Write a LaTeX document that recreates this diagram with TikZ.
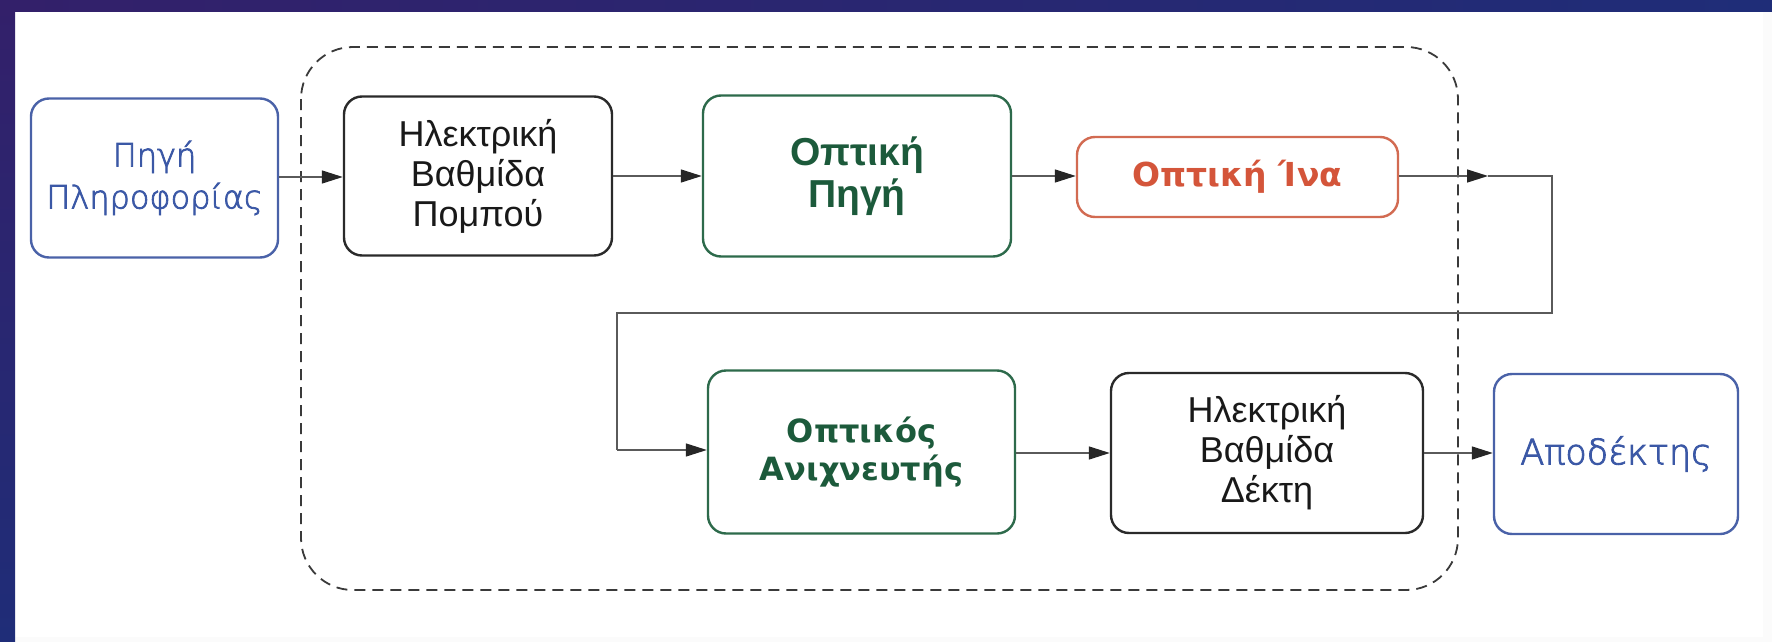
\documentclass[tikz,border=0pt]{standalone}
\usepackage{fontspec}
\setmainfont{Liberation Sans}
\newfontfamily\djsans{DejaVu Sans}
\newfontfamily\djlight{DejaVu Sans ExtraLight}[FakeBold=2.5]
\usetikzlibrary{arrows.meta}
\definecolor{frameA}{HTML}{33206A}
\definecolor{frameB}{HTML}{1F2D78}
\definecolor{bluec}{HTML}{3B58A6}
\definecolor{blueb}{HTML}{4A62A8}
\definecolor{greenc}{HTML}{1C5A3B}
\definecolor{greenb}{HTML}{2D6A4B}
\definecolor{redc}{HTML}{D4553A}
\definecolor{redb}{HTML}{D26B52}
\definecolor{darkb}{HTML}{2A2A2A}
\definecolor{linec}{HTML}{5A5A5A}
\definecolor{dashc}{HTML}{3A3A3A}
\begin{document}
\begin{tikzpicture}[x=1pt,y=-1pt,
  boxbase/.style={rounded corners=18pt, line width=2.4pt, align=center, inner sep=0pt, anchor=center},
  blackbox/.style={boxbase, draw=darkb, text=black!90, font=\fontsize{36}{40}\selectfont},
  bluebox/.style={boxbase, draw=blueb, text=bluec},
  greenbox/.style={boxbase, draw=greenb, text=greenc},
  redbox/.style={boxbase, draw=redb, text=redc, font=\djsans\bfseries\fontsize{33}{38}\selectfont},
  conn/.style={draw=linec, line width=1.4pt},
  arr/.style={conn, -{Triangle[length=21pt,width=13pt,fill=black!85,color=black!85]}},
  groupbox/.style={draw=dashc, line width=1.8pt, dash pattern=on 11pt off 7pt, rounded corners=52pt}
]
\useasboundingbox (0,0) rectangle (1772,642);
\fill[white!97!gray] (0,0) rectangle (1772,642);
\fill[white] (15,12) rectangle (1763,637);
\shade[left color=frameA, right color=frameB] (0,0) rectangle (1772,12);
\shade[top color=frameA, bottom color=frameB] (0,0) rectangle (15,642);

% group
\draw[groupbox] (301,47) rectangle (1458,590);

% nodes
\node[bluebox, minimum width=247pt, minimum height=159pt, font=\djlight\fontsize{32}{42}\selectfont] (src) at (154.5,178) {Πηγή\\Πληροφορίας};
\node[blackbox, minimum width=268pt, minimum height=159pt] (tx) at (478,176) {Ηλεκτρική\\Βαθμίδα\\Πομπού};
\node[greenbox, minimum width=308pt, minimum height=161pt, font=\bfseries\fontsize{39}{42}\selectfont] (osrc) at (857,176) {Οπτική\\Πηγή};
\node[redbox, minimum width=321pt, minimum height=80pt] (fib) at (1237.5,177) {Οπτική Ίνα};
\node[greenbox, minimum width=307pt, minimum height=163pt, font=\djsans\bfseries\fontsize{32}{38}\selectfont] (det) at (861.5,452) {Οπτικός\\Ανιχνευτής};
\node[blackbox, minimum width=312pt, minimum height=160pt] (rx) at (1267,453) {Ηλεκτρική\\Βαθμίδα\\Δέκτη};
\node[bluebox, minimum width=244pt, minimum height=160pt, font=\djlight\fontsize{35}{42}\selectfont] (dst) at (1616,454) {Αποδέκτης};

% connectors
\draw[arr] (src.east |- 0,177) -- (tx.west |- 0,177);
\draw[arr] (tx.east |- 0,176) -- (osrc.west |- 0,176);
\draw[arr] (osrc.east |- 0,176) -- (fib.west |- 0,176);
\coordinate (m1) at (1488,176);
\coordinate (c1) at (1552,176);
\coordinate (c2) at (1552,313);
\coordinate (c3) at (617,313);
\coordinate (c4) at (617,450);
\draw[arr] (fib.east |- 0,176) -- (m1);
\draw[conn] (m1) -- (c1) -- (c2) -- (c3) -- (c4);
\draw[arr] (c4) -- (det.west |- c4);
\draw[arr] (det.east |- 0,453) -- (rx.west |- 0,453);
\draw[arr] (rx.east |- 0,453) -- (dst.west |- 0,453);
\end{tikzpicture}
\end{document}
